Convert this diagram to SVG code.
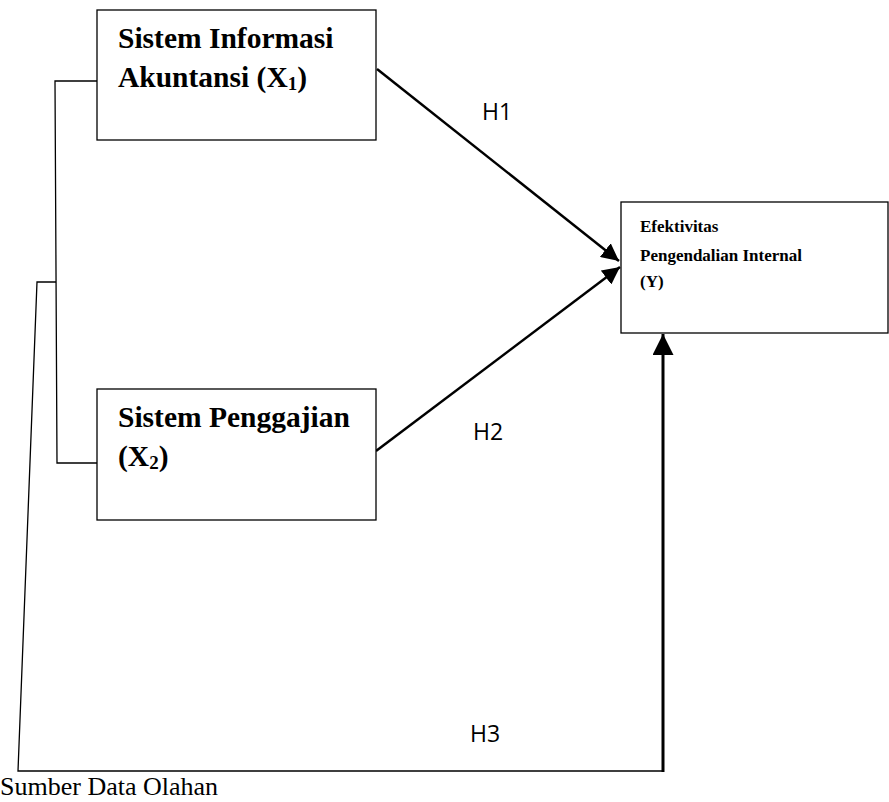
<svg xmlns="http://www.w3.org/2000/svg" width="889" height="802" viewBox="0 0 889 802">
<defs>
<style>
.box{fill:#fff;stroke:#000;stroke-width:1.3}
.t{font-family:"Liberation Serif","Times New Roman",serif;font-weight:bold;fill:#000}
.big{font-size:29.5px}
.sm{font-size:17px}
.h{font-family:"Open Sans","Noto Sans",sans-serif;font-size:23px;fill:#000}
.thin{fill:none;stroke:#000;stroke-width:1.3}
.arr{fill:none;stroke:#000;stroke-width:2.5}
</style>
<marker id="ah" viewBox="0 0 10 10" refX="10" refY="5" markerWidth="7" markerHeight="7" markerUnits="strokeWidth" orient="auto">
<path d="M0,0 L10,5 L0,10 z" fill="#000"/>
</marker>
</defs>
<rect width="889" height="802" fill="#fff"/>
<g id="connectors">
<path class="thin" d="M99,81 H55 L57,463 H99"/>
<path class="thin" d="M56,282 H37 L18,771 H662"/>
<line class="arr" x1="377" y1="69" x2="619" y2="261" marker-end="url(#ah)"/>
<line class="arr" x1="376" y1="451" x2="620" y2="267" marker-end="url(#ah)"/>
<path class="arr" d="M663,772 V334" marker-end="url(#ah)" style="stroke-width:3"/>
<text class="h" x="482" y="120">H1</text>
<text class="h" x="473" y="440">H2</text>
<text class="h" x="470" y="742">H3</text>
</g>
<g id="x1">
<rect class="box" x="97" y="10" width="279" height="130"/>
<text class="t big" x="118" y="48">Sistem Informasi</text>
<text class="t big" x="118" y="87">Akuntansi (X<tspan font-size="19" dy="3">1</tspan><tspan dy="-3">)</tspan></text>
</g>
<g id="x2">
<rect class="box" x="97" y="389" width="279" height="131"/>
<text class="t big" x="118" y="427">Sistem Penggajian</text>
<text class="t big" x="118" y="466">(X<tspan font-size="19" dy="3">2</tspan><tspan dy="-3">)</tspan></text>
</g>
<g id="y">
<rect class="box" x="621" y="202" width="267" height="131"/>
<text class="t sm" x="640" y="232">Efektivitas</text>
<text class="t sm" x="640" y="261">Pengendalian Internal</text>
<text class="t sm" x="640" y="287">(Y)</text>
</g>
<text x="0" y="795" font-family="'Liberation Serif','Times New Roman',serif" font-size="26" fill="#000">Sumber Data Olahan</text>
</svg>
